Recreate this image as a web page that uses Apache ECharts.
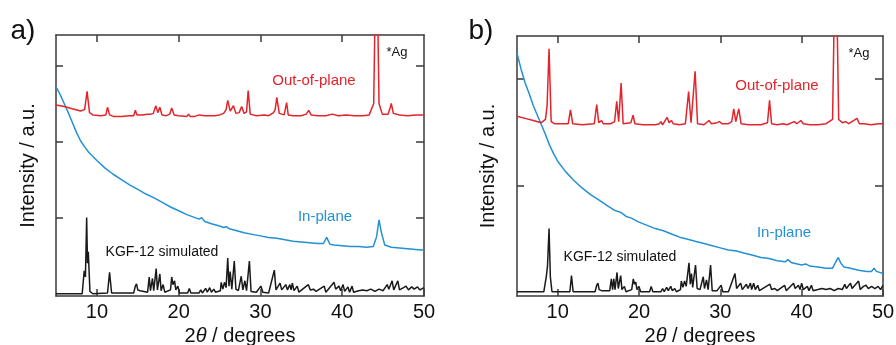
<!DOCTYPE html>
<html>
<head>
<meta charset="utf-8">
<script src="https://cdn.jsdelivr.net/npm/echarts@6/dist/echarts.min.js"></script>
<style>
  html, body { margin: 0; padding: 0; background: #fff; }
  #chart { width: 896px; height: 345px; }
</style>
</head>
<body>
<div id="chart"></div>
<script>
// x ticks / labels (2theta, degrees)
const xTicks = [10, 20, 30, 40, 50];
const yTicksA = [1, 2, 3];
const yTicksB = [1, 2];

// panel a) out-of-plane (red)
const outA = [[5,2.48],[6,2.46],[7,2.43],[8,2.40],[8.5,2.42],[8.8,2.66],[9.1,2.38],[9.5,2.35],[10.5,2.34],[11.1,2.35],[11.3,2.45],[11.55,2.35],[12,2.33],[13,2.33],[14,2.34],[14.5,2.34],[14.7,2.41],[14.9,2.35],[15.5,2.35],[16.2,2.36],[16.4,2.38],[16.6,2.36],[16.9,2.37],[17.2,2.47],[17.45,2.38],[17.7,2.45],[17.95,2.35],[18.5,2.34],[18.9,2.36],[19.15,2.44],[19.45,2.35],[20,2.34],[21,2.33],[21.2,2.36],[21.4,2.33],[22,2.33],[22.5,2.35],[22.7,2.33],[23.2,2.34],[23.4,2.36],[23.6,2.34],[24,2.34],[24.2,2.36],[24.4,2.34],[25,2.35],[25.5,2.37],[25.8,2.42],[26.0,2.54],[26.3,2.40],[26.7,2.47],[27.0,2.37],[27.4,2.38],[27.7,2.46],[28.0,2.37],[28.3,2.39],[28.5,2.67],[28.75,2.36],[29.5,2.34],[30.5,2.35],[31,2.34],[31.6,2.38],[31.8,2.42],[32.0,2.58],[32.3,2.37],[32.9,2.35],[33.2,2.51],[33.4,2.35],[34,2.34],[35,2.34],[35.6,2.36],[35.9,2.41],[36.2,2.35],[37,2.34],[38,2.34],[38.8,2.36],[39.5,2.34],[40.5,2.35],[41.5,2.34],[42.5,2.34],[43.3,2.35],[43.85,2.5],[44.0,3.6],[44.35,3.6],[44.5,2.5],[44.9,2.36],[45.6,2.36],[45.8,2.42],[46.0,2.50],[46.25,2.37],[47,2.35],[48,2.34],[49,2.35],[50,2.35]];

// panel a) in-plane (blue)
const inA = [[5,2.72],[5.5,2.62],[6,2.50],[6.5,2.38],[7,2.25],[7.5,2.12],[8,2.01],[8.5,1.93],[9,1.86],[10,1.75],[11,1.65],[12,1.57],[13,1.50],[14,1.43],[15,1.37],[16,1.31],[17,1.26],[18,1.20],[19,1.14],[20,1.09],[21,1.04],[22,1.00],[22.5,0.98],[22.8,1.00],[23.2,0.95],[24,0.92],[25,0.89],[25.5,0.87],[25.8,0.88],[26.3,0.85],[27,0.83],[28,0.80],[29,0.78],[30,0.76],[31,0.74],[32,0.73],[33,0.71],[34,0.69],[35,0.68],[36,0.67],[37,0.66],[37.7,0.66],[38.1,0.74],[38.5,0.65],[39,0.64],[40,0.63],[41,0.62],[42,0.62],[43,0.61],[43.8,0.62],[44.2,0.75],[44.5,0.97],[44.8,0.80],[45.2,0.64],[46,0.61],[47,0.60],[48,0.59],[49,0.58],[50,0.57]];

// panel a) KGF-12 simulated (black)
const simA = [[5,0.0],[8.2,0.0],[8.45,0.3],[8.6,0.22],[8.75,1.0],[8.85,0.4],[8.95,0.55],[9.15,0.03],[9.5,0],[11.3,0.01],[11.55,0.28],[11.8,0.01],[14.5,0.01],[14.7,0.10],[14.85,0.13],[15.0,0.05],[15.3,0.04],[15.5,0.02],[16.2,0.02],[16.4,0.22],[16.55,0.04],[16.8,0.20],[16.95,0.04],[17.25,0.33],[17.4,0.05],[17.7,0.26],[17.85,0.04],[18.1,0.12],[18.3,0.02],[19.0,0.05],[19.15,0.22],[19.3,0.12],[19.5,0.17],[19.65,0.05],[19.9,0.10],[20.1,0.01],[21.1,0.01],[21.3,0.07],[21.5,0.01],[22.5,0.01],[22.7,0.05],[22.9,0.01],[23.3,0.07],[23.5,0.02],[23.8,0.08],[24.0,0.02],[24.3,0.06],[24.5,0.02],[25.1,0.04],[25.2,0.15],[25.4,0.06],[25.6,0.15],[25.8,0.08],[26.0,0.47],[26.15,0.10],[26.3,0.29],[26.5,0.06],[26.8,0.43],[27.0,0.06],[27.3,0.04],[27.65,0.23],[27.85,0.05],[28.1,0.17],[28.3,0.04],[28.65,0.43],[28.85,0.03],[29.5,0.02],[30.05,0.10],[30.3,0.02],[31.0,0.01],[31.7,0.31],[31.9,0.05],[32.4,0.14],[32.6,0.05],[33.1,0.12],[33.3,0.05],[33.6,0.12],[33.75,0.05],[33.9,0.14],[34.1,0.04],[34.5,0.10],[34.7,0.02],[35.85,0.12],[36.1,0.05],[36.5,0.06],[36.8,0.03],[37.8,0.10],[38.0,0.02],[39.0,0.15],[39.2,0.06],[39.6,0.10],[39.8,0.04],[40.1,0.12],[40.3,0.03],[40.7,0.09],[40.9,0.02],[41.2,0.10],[41.4,0.02],[42,0.04],[42.5,0.05],[43,0.04],[43.5,0.06],[44,0.03],[44.5,0.06],[45,0.04],[45.5,0.12],[45.7,0.06],[46.1,0.17],[46.3,0.05],[46.8,0.17],[47.0,0.05],[47.5,0.08],[47.8,0.10],[48.1,0.05],[48.5,0.09],[48.8,0.06],[49.2,0.09],[49.5,0.05],[50,0.08]];

// panel b) out-of-plane (red)
const outB = [[5,1.65],[6,1.63],[7,1.61],[8,1.59],[8.5,1.62],[8.7,1.75],[8.94,2.28],[9.2,1.60],[9.6,1.58],[11.3,1.58],[11.57,1.71],[11.85,1.58],[13,1.57],[14.5,1.58],[14.8,1.76],[15.05,1.59],[15.4,1.61],[15.6,1.58],[16.5,1.58],[17.0,1.60],[17.26,1.79],[17.5,1.60],[17.8,1.96],[18.05,1.58],[19.0,1.59],[19.27,1.66],[19.5,1.58],[20.5,1.57],[22,1.57],[22.5,1.58],[22.7,1.60],[22.9,1.57],[23.45,1.64],[23.7,1.59],[24.0,1.61],[24.2,1.58],[25,1.57],[25.7,1.58],[26.1,1.88],[26.4,1.59],[26.9,2.07],[27.2,1.58],[28,1.57],[28.6,1.61],[28.9,1.58],[29.6,1.59],[29.9,1.60],[30.2,1.58],[31,1.58],[31.4,1.60],[31.65,1.72],[31.9,1.60],[32.27,1.72],[32.55,1.58],[33.5,1.57],[35,1.57],[35.8,1.59],[36.05,1.80],[36.3,1.58],[37,1.57],[37.7,1.58],[38.2,1.57],[39.1,1.60],[39.4,1.58],[39.9,1.61],[40.2,1.58],[41,1.57],[42,1.57],[43,1.58],[43.8,1.62],[44.0,2.6],[44.35,2.6],[44.55,1.62],[45,1.59],[45.4,1.60],[45.8,1.58],[46.8,1.63],[47.1,1.58],[47.7,1.58],[48.5,1.57],[49.5,1.58],[50,1.58]];

// panel b) in-plane (blue)
const inB = [[5,2.24],[5.5,2.09],[6,1.96],[6.5,1.86],[7,1.75],[7.5,1.66],[8,1.57],[8.5,1.48],[9,1.38],[9.5,1.30],[10,1.23],[11,1.13],[12,1.05],[13,0.98],[14,0.92],[15,0.87],[16,0.82],[17,0.77],[17.8,0.75],[18.5,0.71],[19,0.70],[20,0.66],[21,0.63],[22,0.60],[23,0.58],[24,0.55],[25,0.52],[26,0.50],[27,0.48],[28,0.46],[29,0.44],[30,0.42],[31,0.40],[32,0.39],[33,0.37],[34,0.35],[35,0.33],[36,0.32],[37,0.30],[38,0.29],[38.3,0.31],[38.8,0.28],[39,0.28],[40,0.26],[40.5,0.27],[41,0.25],[42,0.24],[43,0.23],[43.8,0.23],[44.2,0.29],[44.5,0.33],[44.8,0.28],[45.2,0.24],[46,0.23],[47,0.21],[48,0.20],[48.6,0.20],[48.9,0.23],[49.2,0.20],[50,0.18]];

// panel b) KGF-12 simulated (black)
const simB = [[5,0.01],[8.3,0.01],[8.6,0.15],[8.75,0.25],[8.94,0.60],[9.1,0.15],[9.3,0.01],[11.5,0.01],[11.7,0.16],[11.9,0.01],[14.6,0.01],[14.8,0.07],[14.95,0.09],[15.1,0.03],[15.4,0.02],[16.4,0.02],[16.6,0.13],[16.75,0.03],[16.9,0.13],[17.05,0.03],[17.3,0.19],[17.45,0.04],[17.75,0.16],[17.9,0.03],[18.2,0.06],[18.4,0.01],[19.1,0.03],[19.3,0.13],[19.45,0.08],[19.6,0.10],[19.75,0.03],[20.0,0.06],[20.2,0.01],[21.3,0.01],[21.5,0.06],[21.7,0.01],[22.7,0.01],[22.9,0.04],[23.1,0.01],[23.4,0.05],[23.6,0.02],[23.9,0.06],[24.1,0.02],[24.4,0.04],[24.6,0.01],[25.1,0.03],[25.2,0.11],[25.4,0.05],[25.6,0.11],[25.8,0.06],[26.15,0.28],[26.3,0.08],[26.45,0.18],[26.6,0.05],[26.95,0.26],[27.15,0.04],[27.5,0.03],[27.9,0.15],[28.05,0.04],[28.3,0.12],[28.5,0.03],[28.8,0.26],[29.0,0.02],[29.6,0.02],[30.1,0.07],[30.3,0.01],[31.0,0.01],[31.8,0.18],[32.0,0.04],[32.5,0.09],[32.7,0.03],[33.2,0.08],[33.4,0.04],[33.7,0.09],[33.85,0.03],[34.1,0.09],[34.3,0.03],[34.6,0.07],[34.8,0.02],[36.1,0.08],[36.3,0.03],[36.7,0.04],[37,0.02],[37.9,0.07],[38.1,0.02],[39.0,0.09],[39.2,0.04],[39.6,0.07],[39.8,0.03],[40.0,0.09],[40.2,0.03],[40.7,0.06],[40.9,0.02],[41.2,0.07],[41.4,0.02],[42,0.03],[42.5,0.04],[43,0.03],[43.5,0.04],[44,0.02],[44.5,0.04],[45,0.03],[45.3,0.08],[45.5,0.04],[46.0,0.09],[46.2,0.04],[47.0,0.11],[47.2,0.03],[47.6,0.06],[47.9,0.07],[48.2,0.04],[48.6,0.06],[49,0.04],[49.4,0.06],[49.7,0.03],[50,0.07]];

const FONT = '"Liberation Sans", Arial, sans-serif';
const RED = '#e3242b';
const BLUE = '#2391d4';
const BLACK = '#1a1a1a';
const FRAME = '#3a3a3a';

const chart = echarts.init(document.getElementById('chart'), null, { renderer: 'canvas' });

function frameLine() {
    return { show: true, onZero: false, lineStyle: { color: FRAME, width: 1.5 } };
}

// build the bottom/top axes for one panel
function xAxes(gridIndex) {
    return [
        {
            type: 'value', gridIndex, position: 'bottom', min: 5, max: 50,
            axisLine: frameLine(),
            axisTick: { show: true, inside: true, length: 7, customValues: xTicks, lineStyle: { color: FRAME, width: 1.5 } },
            axisLabel: { show: true, customValues: xTicks, color: '#111', fontSize: 20, fontFamily: FONT, margin: 6 },
            splitLine: { show: false },
            name: '2{i|θ} / degrees',
            nameLocation: 'middle', nameGap: 30,
            nameTextStyle: { color: '#111', fontSize: 20, fontFamily: FONT,
                rich: { i: { fontStyle: 'italic', fontSize: 20, fontFamily: FONT, color: '#111' } } }
        },
        {
            type: 'value', gridIndex, position: 'top', min: 5, max: 50,
            axisLine: frameLine(),
            axisTick: { show: true, inside: true, length: 7, customValues: xTicks.slice(0, 4), lineStyle: { color: FRAME, width: 1.5 } },
            axisLabel: { show: false },
            splitLine: { show: false }
        }
    ];
}

function yAxes(gridIndex, max, ticks, gap) {
    return [
        {
            type: 'value', gridIndex, position: 'left', min: -0.03, max,
            axisLine: frameLine(),
            axisTick: { show: true, inside: true, length: 7, customValues: ticks, lineStyle: { color: FRAME, width: 1.5 } },
            axisLabel: { show: false },
            splitLine: { show: false },
            name: 'Intensity / a.u.', nameLocation: 'middle', nameGap: gap, nameRotate: 90,
            nameTextStyle: { color: '#111', fontSize: 20, fontFamily: FONT }
        },
        {
            type: 'value', gridIndex, position: 'right', min: -0.03, max,
            axisLine: frameLine(),
            axisTick: { show: true, inside: true, length: 8, customValues: ticks, lineStyle: { color: FRAME, width: 1.5 } },
            axisLabel: { show: false },
            splitLine: { show: false }
        }
    ];
}

function trace(data, color, xi, yi) {
    return {
        type: 'line', data, xAxisIndex: xi, yAxisIndex: yi,
        showSymbol: false, symbol: 'none', clip: true, silent: true,
        lineStyle: { color, width: 1.5 }
    };
}

function label(text, x, y, color, size) {
    return {
        type: 'text', x, y, silent: true,
        style: { text, fill: color, font: size + 'px ' + FONT, textAlign: 'center', textVerticalAlign: 'middle' }
    };
}

const option = {
    animation: false,
    backgroundColor: '#fff',
    grid: [
        { left: 56, top: 35, width: 368, height: 261, outerBoundsMode: 'none', containLabel: false },
        { left: 517, top: 36, width: 366, height: 260, outerBoundsMode: 'none', containLabel: false }
    ],
    xAxis: [...xAxes(0), ...xAxes(1)],
    yAxis: [...yAxes(0, 3.40, yTicksA, 18), ...yAxes(1, 2.40, yTicksB, 19)],
    series: [
        trace(simA, BLACK, 0, 0),
        trace(inA, BLUE, 0, 0),
        trace(outA, RED, 0, 0),
        trace(simB, BLACK, 2, 2),
        trace(inB, BLUE, 2, 2),
        trace(outB, RED, 2, 2)
    ],
    graphic: [
        label('a)', 23, 31, '#111', 28),
        label('Out-of-plane', 314, 81, RED, 15),
        label('*Ag', 397, 52, '#111', 13),
        label('In-plane', 325, 217, BLUE, 15),
        label('KGF-12 simulated', 162, 252, '#111', 14),
        label('b)', 481, 31, '#111', 28),
        label('Out-of-plane', 777, 86, RED, 15),
        label('*Ag', 859, 53, '#111', 13),
        label('In-plane', 784, 233, BLUE, 15),
        label('KGF-12 simulated', 620, 257, '#111', 14)
    ]
};

chart.setOption(option);
</script>
</body>
</html>
